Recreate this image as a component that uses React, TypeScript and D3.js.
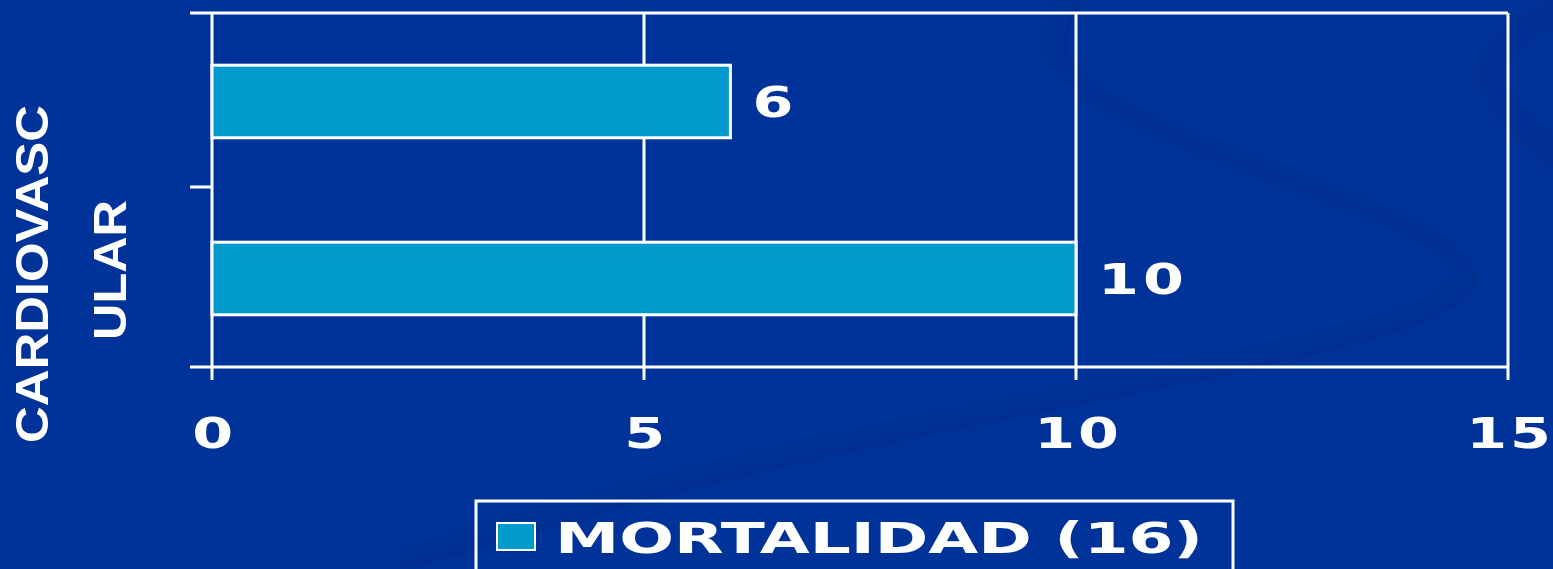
import React from "react";
import * as d3 from "d3";

const categories = ["Grupo A", "Grupo B"];
const values = [6, 10];
const xTicks = [0, 5, 10, 15];
const seriesName = "MORTALIDAD (16)";
const yTitleLines = ["CARDIOVASC", "ULAR"];

const W = 1553;
const H = 569;
const BG = "#003399";
const BAR = "#009ACD";
const WIDE = 1.4;

export default function App() {
  const x = d3.scaleLinear().domain([0, 15]).range([212, 1508]);
  const y = d3
    .scaleBand<string>()
    .domain(categories)
    .range([13, 367])
    .paddingInner(0.59)
    .paddingOuter(0.295);

  const swirl1 = d3.line().curve(d3.curveBasis)([
    [1080, -20],
    [1030, 60],
    [1150, 130],
    [1350, 200],
    [1490, 260],
    [1440, 320],
    [1100, 390],
    [700, 470],
    [400, 560],
  ]);
  const swirl2 = d3.line().curve(d3.curveBasis)([
    [1560, 10],
    [1500, 40],
    [1480, 90],
    [1560, 160],
  ]);

  return (
    <svg
      width={W}
      height={H}
      style={{ position: "absolute", left: 0, top: 0, display: "block" }}
      fontFamily="'DejaVu Sans', sans-serif"
    >
      <rect x={0} y={0} width={W} height={H} fill={BG} />
      <path d={swirl1 || ""} fill="none" stroke="#002f8c" strokeWidth={28} opacity={0.4} />
      <path d={swirl1 || ""} fill="none" stroke="#002c86" strokeWidth={4} opacity={0.3} transform="translate(10,6)" />
      <path d={swirl2 || ""} fill="none" stroke="#002f8c" strokeWidth={30} opacity={0.45} />

      {/* gridlines */}
      {xTicks.map((t) => (
        <line key={"g" + t} x1={x(t)} x2={x(t)} y1={13} y2={380} stroke="#fff" strokeWidth={3} />
      ))}
      {/* top & bottom borders with y ticks */}
      <line x1={190} x2={x(15)} y1={13} y2={13} stroke="#fff" strokeWidth={3} />
      <line x1={190} x2={x(15)} y1={367} y2={367} stroke="#fff" strokeWidth={3} />
      <line x1={190} x2={212} y1={187} y2={187} stroke="#fff" strokeWidth={3} />

      {/* bars */}
      {categories.map((c, i) => (
        <g key={c}>
          <rect
            x={x(0)}
            y={y(c)!}
            width={x(values[i]) - x(0)}
            height={y.bandwidth()}
            fill={BAR}
            stroke="#fff"
            strokeWidth={3}
          />
          <g transform={`translate(${x(values[i]) + 22},${y(c)! + y.bandwidth() / 2 + 15}) scale(${WIDE},1)`}>
            <text x={0} y={0} fill="#fff" fontSize={42} fontWeight="bold" letterSpacing={3}>
              {values[i]}
            </text>
          </g>
        </g>
      ))}

      {/* x tick labels */}
      {xTicks.map((t) => (
        <g key={"t" + t} transform={`translate(${x(t) + 2},448) scale(${WIDE},1)`}>
          <text x={0} y={0} textAnchor="middle" fill="#fff" fontSize={42} fontWeight="bold" letterSpacing={2}>
            {t}
          </text>
        </g>
      ))}

      {/* y title */}
      <text
        transform="translate(48,274) rotate(-90)"
        textAnchor="middle"
        fill="#fff"
        fontFamily="'Liberation Sans', Arial, sans-serif"
        fontWeight="bold"
        fontSize={47}
        textLength={338}
        lengthAdjust="spacingAndGlyphs"
      >
        {yTitleLines[0]}
      </text>
      <text
        transform="translate(126,270) rotate(-90)"
        textAnchor="middle"
        fill="#fff"
        fontFamily="'Liberation Sans', Arial, sans-serif"
        fontWeight="bold"
        fontSize={47}
        textLength={140}
        lengthAdjust="spacingAndGlyphs"
      >
        {yTitleLines[1]}
      </text>

      {/* legend */}
      <rect x={476} y={501} width={757} height={80} fill="none" stroke="#fff" strokeWidth={3} />
      <rect x={497} y={523} width={38} height={27} fill={BAR} stroke="#fff" strokeWidth={2} />
      <text
        x={555}
        y={553}
        fill="#fff"
        fontSize={42}
        fontWeight="bold"
        textLength={648}
        lengthAdjust="spacingAndGlyphs"
      >
        {seriesName}
      </text>
    </svg>
  );
}
